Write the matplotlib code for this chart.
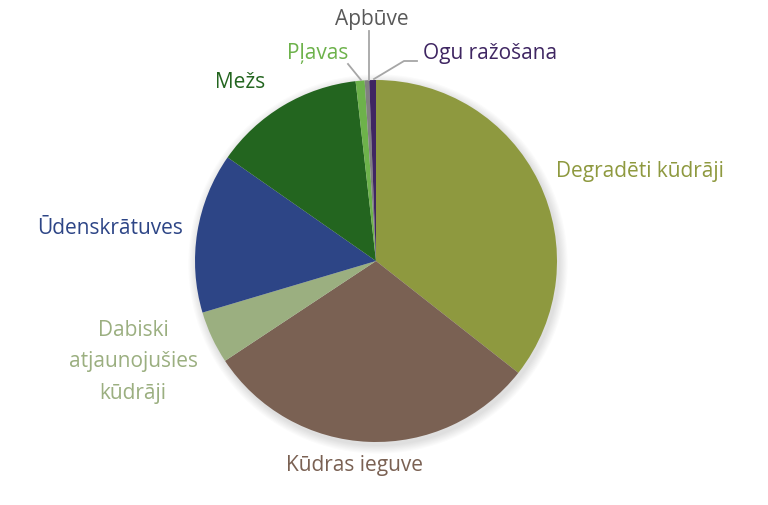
import matplotlib.pyplot as plt
from matplotlib.patches import Circle

# land use categories (clockwise from 12 o'clock)
labels = ['Degradēti kūdrāji', 'Kūdras ieguve', 'Dabiski\natjaunojušies\nkūdrāji',
          'Ūdenskrātuves', 'Mežs', 'Pļavas', 'Apbūve', 'Ogu ražošana']
shares = [35.6, 30.1, 4.7, 14.3, 13.5, 0.8, 0.4, 0.6]
colors = ['#8E993F', '#7A6153', '#9BAF80', '#2D4586', '#23651F', '#6DB24B', '#808080', '#3F2662']
text_colors = colors[:6] + ['#595959', '#3F2662']

plt.rcParams['font.family'] = ['Open Sans', 'DejaVu Sans']

fig = plt.figure(figsize=(7.68, 5.05), dpi=100)
ax = fig.add_axes([0, 0, 1, 1])

cx, cy, r = 376, 244, 181

# soft shadow
for k in range(8):
    ax.add_patch(Circle((cx + 2, cy - 3), r + 1 + k * 1.1, color='black', alpha=0.016, lw=0, zorder=0))

ax.pie(shares, colors=colors, startangle=90, counterclock=False, center=(cx, cy), radius=r,
       wedgeprops=dict(linewidth=0), frame=True)
ax.set_xlim(0, 768)
ax.set_ylim(0, 505)
ax.set_aspect('equal')
ax.axis('off')

fs = 15
# label positions in pixel coords (x, y from top)
pos = [(640, 172), (355, 466), (133, 362), (110, 229), (240, 82), (318, 53), (372, 19), (490, 53)]
for lab, c, (px, py) in zip(labels, text_colors, pos):
    ax.text(px, 505 - py, lab, color=c, fontsize=fs, ha='center', va='center', linespacing=1.65)

# leader lines
lc = '#A6A6A6'
ax.plot([348, 361], [505 - 64, 505 - 80], color=lc, lw=1.3)
ax.plot([369, 369], [505 - 31, 505 - 80], color=lc, lw=1.3)
ax.plot([417, 404, 374], [505 - 61, 505 - 61, 505 - 79], color=lc, lw=1.3)

fig.savefig('out.png', dpi=100)
